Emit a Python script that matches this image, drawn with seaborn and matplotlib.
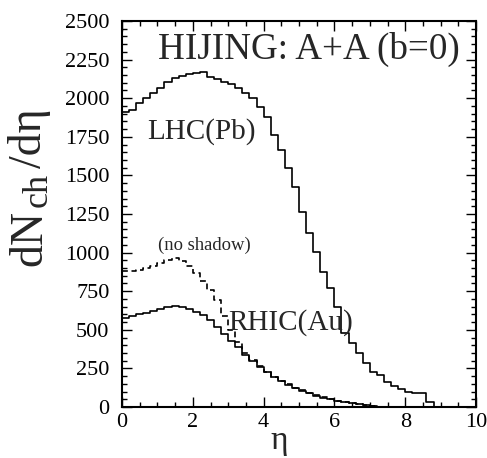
import numpy as np
import pandas as pd
import matplotlib
matplotlib.use("Agg")
import matplotlib.pyplot as plt
import seaborn as sns
from matplotlib.ticker import MultipleLocator

# ---- data (dN_ch/deta per 0.2-wide eta bin) ----
bin_width = 0.2
eta_range = (0.0, 10.0)
eta_edges = np.round(np.arange(0, 10.0001, bin_width), 2)

lhc_pb = [1908, 1924, 1971, 2003, 2036, 2068, 2107, 2128, 2144, 2155,
          2160, 2172, 2140, 2125, 2108, 2092, 2064, 2032, 1999, 1945,
          1880, 1762, 1665, 1546, 1427, 1265, 1125, 1006, 876, 769,
          650, 481, 412, 348, 283, 229, 207, 165, 135, 115,
          100, 92, 92, 35, 0, 0, 0, 0, 0, 0]

rhic_au = [578, 588, 600, 612, 625, 637, 648, 655, 650, 635,
           615, 595, 565, 515, 470, 430, 390, 340, 300, 262,
           225, 195, 168, 145, 122, 105, 88, 74, 60, 50,
           40, 32, 25, 18, 10, 4, 0, 0, 0, 0,
           0, 0, 0, 0, 0, 0, 0, 0, 0, 0]

rhic_noshadow = [880, 883, 890, 900, 915, 935, 955, 963, 945, 912,
                 870, 815, 760, 690, 590, 500, 420, 350, 305, 265,
                 228, 197, 170, 147, 124, 107, 90, 76, 62, 51,
                 41, 33, 26, 19, 11, 5, 0, 0, 0, 0,
                 0, 0, 0, 0, 0, 0, 0, 0, 0, 0]

title_text = "HIJING: A+A (b=0)"
label_lhc = "LHC(Pb)"
label_rhic = "RHIC(Au)"
label_noshadow = "(no shadow)"
xlabel_text = "η"
ylabel_parts = ["dN", "ch", "/dη"]

# ---- style ----
sns.set_style("ticks")
plt.rcParams["font.family"] = ["Liberation Serif", "DejaVu Serif"]

centers = (eta_edges[:-1] + eta_edges[1:]) / 2

W, H = 487, 458
fig = plt.figure(figsize=(W / 100, H / 100), dpi=100)
ax = fig.add_axes([122 / W, 1 - 407 / H, 354 / W, 386 / H])

lw = 1.2
for vals, ls in [(lhc_pb, "-"), (rhic_au, "-"), (rhic_noshadow, (0, (3.5, 2.2)))]:
    d = pd.DataFrame({"eta": centers, "dndeta": np.asarray(vals, float)})
    sns.histplot(data=d, x="eta", weights="dndeta",
                 binwidth=bin_width, binrange=eta_range,
                 element="step", fill=False, color="black",
                 linewidth=lw, linestyle=ls, ax=ax)

ax.set_xlim(0, 10)
ax.set_ylim(0, 2500)
ax.xaxis.set_major_locator(MultipleLocator(2))
ax.xaxis.set_minor_locator(MultipleLocator(0.5))
ax.yaxis.set_major_locator(MultipleLocator(250))
ax.yaxis.set_minor_locator(MultipleLocator(50))
ax.tick_params(which="both", direction="in", right=True, top=True,
               colors="black", labelsize=16, width=1.0)
ax.tick_params(which="major", length=7)
ax.tick_params(which="minor", length=3.5)
ax.tick_params(axis="y", pad=9)
ax.tick_params(axis="x", pad=4)
for s in ax.spines.values():
    s.set_visible(True)
    s.set_linewidth(1.5)
    s.set_color("black")
ax.set_xlabel("")
ax.set_ylabel("")


def px(x, y):
    return x / W, 1 - y / H


# x-axis title
fig.text(*px(279, 449), xlabel_text, fontsize=24, ha="center", va="baseline")

# y-axis title, rotated, assembled from pieces (baseline on the right side)
fig.text(*px(41, 266), ylabel_parts[0], fontsize=33, rotation=90,
         rotation_mode="anchor", ha="left", va="baseline")
fig.text(*px(47, 207), ylabel_parts[1], fontsize=26, rotation=90,
         rotation_mode="anchor", ha="left", va="baseline")
fig.text(*px(41, 168), ylabel_parts[2], fontsize=33, rotation=90,
         rotation_mode="anchor", ha="left", va="baseline")

ax.text(0.1025, 0.903, title_text, transform=ax.transAxes, fontsize=26.7,
        ha="left", va="baseline")
ax.text(0.0706, 0.696, label_lhc, transform=ax.transAxes, fontsize=21,
        ha="left", va="baseline")
ax.text(0.300, 0.1995, label_rhic, transform=ax.transAxes, fontsize=21,
        ha="left", va="baseline")
ax.text(0.1017, 0.4067, label_noshadow, transform=ax.transAxes, fontsize=13.4,
        ha="left", va="baseline")

fig.savefig("out.png", dpi=100)
